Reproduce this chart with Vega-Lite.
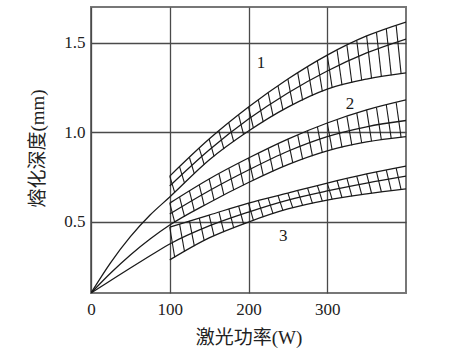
{
  "$schema": "https://vega.github.io/schema/vega-lite/v6.json",
  "width": 315,
  "height": 286,
  "autosize": {"type": "none"},
  "padding": {"left": 91, "top": 7, "right": 46, "bottom": 59},
  "background": "white",
  "config": {
    "view": {"stroke": "#777777", "strokeWidth": 2},
    "axis": {
      "labelFont": "Liberation Serif",
      "labelFontSize": 17,
      "labelColor": "#222222",
      "labelFlush": false,
      "titleFont": "Liberation Serif, Noto Sans CJK SC",
      "titleFontSize": 19,
      "titleFontWeight": "normal",
      "titleColor": "#222222",
      "ticks": false,
      "domain": false,
      "gridColor": "#4a4a4a",
      "gridWidth": 1.3,
      "gridOpacity": 1
    }
  },
  "datasets": {
    "curves": [
      {"c": "U1", "x": 100, "y": 0.754}, {"c": "U1", "x": 150, "y": 0.961}, {"c": "U1", "x": 200, "y": 1.140}, {"c": "U1", "x": 250, "y": 1.297}, {"c": "U1", "x": 300, "y": 1.431}, {"c": "U1", "x": 350, "y": 1.538}, {"c": "U1", "x": 400, "y": 1.616},
      {"c": "M1", "x": 100, "y": 0.699}, {"c": "M1", "x": 150, "y": 0.900}, {"c": "M1", "x": 200, "y": 1.073}, {"c": "M1", "x": 250, "y": 1.219}, {"c": "M1", "x": 300, "y": 1.342}, {"c": "M1", "x": 350, "y": 1.443}, {"c": "M1", "x": 400, "y": 1.521},
      {"c": "L1", "x": 0, "y": 0.1}, {"c": "L1", "x": 25, "y": 0.27}, {"c": "L1", "x": 50, "y": 0.415}, {"c": "L1", "x": 75, "y": 0.536}, {"c": "L1", "x": 100, "y": 0.637}, {"c": "L1", "x": 150, "y": 0.844}, {"c": "L1", "x": 200, "y": 1.006}, {"c": "L1", "x": 250, "y": 1.140}, {"c": "L1", "x": 300, "y": 1.241}, {"c": "L1", "x": 350, "y": 1.297}, {"c": "L1", "x": 400, "y": 1.331},
      {"c": "U2", "x": 100, "y": 0.603}, {"c": "U2", "x": 150, "y": 0.738}, {"c": "U2", "x": 200, "y": 0.855}, {"c": "U2", "x": 250, "y": 0.961}, {"c": "U2", "x": 300, "y": 1.051}, {"c": "U2", "x": 350, "y": 1.124}, {"c": "U2", "x": 400, "y": 1.180},
      {"c": "M2", "x": 100, "y": 0.542}, {"c": "M2", "x": 150, "y": 0.672}, {"c": "M2", "x": 200, "y": 0.788}, {"c": "M2", "x": 250, "y": 0.893}, {"c": "M2", "x": 300, "y": 0.975}, {"c": "M2", "x": 350, "y": 1.030}, {"c": "M2", "x": 400, "y": 1.065},
      {"c": "L2", "x": 0, "y": 0.1}, {"c": "L2", "x": 25, "y": 0.212}, {"c": "L2", "x": 50, "y": 0.313}, {"c": "L2", "x": 75, "y": 0.402}, {"c": "L2", "x": 100, "y": 0.480}, {"c": "L2", "x": 150, "y": 0.605}, {"c": "L2", "x": 200, "y": 0.718}, {"c": "L2", "x": 250, "y": 0.818}, {"c": "L2", "x": 300, "y": 0.895}, {"c": "L2", "x": 350, "y": 0.945}, {"c": "L2", "x": 400, "y": 0.975},
      {"c": "U3", "x": 100, "y": 0.469}, {"c": "U3", "x": 150, "y": 0.536}, {"c": "U3", "x": 200, "y": 0.603}, {"c": "U3", "x": 250, "y": 0.659}, {"c": "U3", "x": 300, "y": 0.715}, {"c": "U3", "x": 350, "y": 0.766}, {"c": "U3", "x": 400, "y": 0.810},
      {"c": "M3", "x": 0, "y": 0.1}, {"c": "M3", "x": 25, "y": 0.170}, {"c": "M3", "x": 50, "y": 0.240}, {"c": "M3", "x": 75, "y": 0.308}, {"c": "M3", "x": 100, "y": 0.374}, {"c": "M3", "x": 150, "y": 0.475}, {"c": "M3", "x": 200, "y": 0.553}, {"c": "M3", "x": 250, "y": 0.620}, {"c": "M3", "x": 300, "y": 0.671}, {"c": "M3", "x": 350, "y": 0.715}, {"c": "M3", "x": 400, "y": 0.754},
      {"c": "L3", "x": 100, "y": 0.285}, {"c": "L3", "x": 150, "y": 0.408}, {"c": "L3", "x": 200, "y": 0.497}, {"c": "L3", "x": 250, "y": 0.570}, {"c": "L3", "x": 300, "y": 0.620}, {"c": "L3", "x": 350, "y": 0.654}, {"c": "L3", "x": 400, "y": 0.682}
    ],
    "hatch": [
      {"b": 1, "xt": 100, "yt": 0.754, "xb": 106.25, "yb": 0.663},
      {"b": 1, "xt": 112.5, "yt": 0.806, "xb": 118.75, "yb": 0.715},
      {"b": 1, "xt": 125, "yt": 0.858, "xb": 131.25, "yb": 0.766},
      {"b": 1, "xt": 137.5, "yt": 0.909, "xb": 143.75, "yb": 0.818},
      {"b": 1, "xt": 150, "yt": 0.961, "xb": 156.25, "yb": 0.864},
      {"b": 1, "xt": 162.5, "yt": 1.006, "xb": 168.75, "yb": 0.905},
      {"b": 1, "xt": 175, "yt": 1.051, "xb": 181.25, "yb": 0.945},
      {"b": 1, "xt": 187.5, "yt": 1.095, "xb": 193.75, "yb": 0.986},
      {"b": 1, "xt": 200, "yt": 1.140, "xb": 206.25, "yb": 1.023},
      {"b": 1, "xt": 212.5, "yt": 1.179, "xb": 218.75, "yb": 1.056},
      {"b": 1, "xt": 225, "yt": 1.219, "xb": 231.25, "yb": 1.090},
      {"b": 1, "xt": 237.5, "yt": 1.258, "xb": 243.75, "yb": 1.123},
      {"b": 1, "xt": 250, "yt": 1.297, "xb": 256.25, "yb": 1.153},
      {"b": 1, "xt": 262.5, "yt": 1.331, "xb": 268.75, "yb": 1.178},
      {"b": 1, "xt": 275, "yt": 1.364, "xb": 281.25, "yb": 1.203},
      {"b": 1, "xt": 287.5, "yt": 1.398, "xb": 293.75, "yb": 1.228},
      {"b": 1, "xt": 300, "yt": 1.431, "xb": 306.25, "yb": 1.248},
      {"b": 1, "xt": 312.5, "yt": 1.458, "xb": 318.75, "yb": 1.262},
      {"b": 1, "xt": 325, "yt": 1.485, "xb": 331.25, "yb": 1.276},
      {"b": 1, "xt": 337.5, "yt": 1.511, "xb": 343.75, "yb": 1.290},
      {"b": 1, "xt": 350, "yt": 1.538, "xb": 356.25, "yb": 1.301},
      {"b": 1, "xt": 362.5, "yt": 1.558, "xb": 368.75, "yb": 1.310},
      {"b": 1, "xt": 375, "yt": 1.577, "xb": 381.25, "yb": 1.318},
      {"b": 1, "xt": 387.5, "yt": 1.597, "xb": 393.75, "yb": 1.327},
      {"b": 2, "xt": 100, "yt": 0.603, "xb": 106.25, "yb": 0.496},
      {"b": 2, "xt": 112.5, "yt": 0.637, "xb": 118.75, "yb": 0.527},
      {"b": 2, "xt": 125, "yt": 0.671, "xb": 131.25, "yb": 0.558},
      {"b": 2, "xt": 137.5, "yt": 0.704, "xb": 143.75, "yb": 0.589},
      {"b": 2, "xt": 150, "yt": 0.738, "xb": 156.25, "yb": 0.619},
      {"b": 2, "xt": 162.5, "yt": 0.767, "xb": 168.75, "yb": 0.647},
      {"b": 2, "xt": 175, "yt": 0.797, "xb": 181.25, "yb": 0.676},
      {"b": 2, "xt": 187.5, "yt": 0.826, "xb": 193.75, "yb": 0.704},
      {"b": 2, "xt": 200, "yt": 0.855, "xb": 206.25, "yb": 0.731},
      {"b": 2, "xt": 212.5, "yt": 0.882, "xb": 218.75, "yb": 0.756},
      {"b": 2, "xt": 225, "yt": 0.908, "xb": 231.25, "yb": 0.781},
      {"b": 2, "xt": 237.5, "yt": 0.935, "xb": 243.75, "yb": 0.806},
      {"b": 2, "xt": 250, "yt": 0.961, "xb": 256.25, "yb": 0.828},
      {"b": 2, "xt": 262.5, "yt": 0.984, "xb": 268.75, "yb": 0.847},
      {"b": 2, "xt": 275, "yt": 1.006, "xb": 281.25, "yb": 0.866},
      {"b": 2, "xt": 287.5, "yt": 1.029, "xb": 293.75, "yb": 0.885},
      {"b": 2, "xt": 300, "yt": 1.051, "xb": 306.25, "yb": 0.901},
      {"b": 2, "xt": 312.5, "yt": 1.069, "xb": 318.75, "yb": 0.914},
      {"b": 2, "xt": 325, "yt": 1.088, "xb": 331.25, "yb": 0.926},
      {"b": 2, "xt": 337.5, "yt": 1.106, "xb": 343.75, "yb": 0.939},
      {"b": 2, "xt": 350, "yt": 1.124, "xb": 356.25, "yb": 0.949},
      {"b": 2, "xt": 362.5, "yt": 1.138, "xb": 368.75, "yb": 0.956},
      {"b": 2, "xt": 375, "yt": 1.152, "xb": 381.25, "yb": 0.964},
      {"b": 2, "xt": 387.5, "yt": 1.166, "xb": 393.75, "yb": 0.971},
      {"b": 3, "xt": 100, "yt": 0.469, "xb": 106.25, "yb": 0.300},
      {"b": 3, "xt": 112.5, "yt": 0.486, "xb": 118.75, "yb": 0.331},
      {"b": 3, "xt": 125, "yt": 0.503, "xb": 131.25, "yb": 0.362},
      {"b": 3, "xt": 137.5, "yt": 0.519, "xb": 143.75, "yb": 0.393},
      {"b": 3, "xt": 150, "yt": 0.536, "xb": 156.25, "yb": 0.419},
      {"b": 3, "xt": 162.5, "yt": 0.553, "xb": 168.75, "yb": 0.441},
      {"b": 3, "xt": 175, "yt": 0.570, "xb": 181.25, "yb": 0.463},
      {"b": 3, "xt": 187.5, "yt": 0.586, "xb": 193.75, "yb": 0.486},
      {"b": 3, "xt": 200, "yt": 0.603, "xb": 206.25, "yb": 0.506},
      {"b": 3, "xt": 212.5, "yt": 0.617, "xb": 218.75, "yb": 0.524},
      {"b": 3, "xt": 225, "yt": 0.631, "xb": 231.25, "yb": 0.543},
      {"b": 3, "xt": 237.5, "yt": 0.645, "xb": 243.75, "yb": 0.561},
      {"b": 3, "xt": 250, "yt": 0.659, "xb": 256.25, "yb": 0.576},
      {"b": 3, "xt": 262.5, "yt": 0.673, "xb": 268.75, "yb": 0.589},
      {"b": 3, "xt": 275, "yt": 0.687, "xb": 281.25, "yb": 0.601},
      {"b": 3, "xt": 287.5, "yt": 0.701, "xb": 293.75, "yb": 0.614},
      {"b": 3, "xt": 300, "yt": 0.715, "xb": 306.25, "yb": 0.624},
      {"b": 3, "xt": 312.5, "yt": 0.728, "xb": 318.75, "yb": 0.633},
      {"b": 3, "xt": 325, "yt": 0.741, "xb": 331.25, "yb": 0.641},
      {"b": 3, "xt": 337.5, "yt": 0.753, "xb": 343.75, "yb": 0.650},
      {"b": 3, "xt": 350, "yt": 0.766, "xb": 356.25, "yb": 0.658},
      {"b": 3, "xt": 362.5, "yt": 0.777, "xb": 368.75, "yb": 0.665},
      {"b": 3, "xt": 375, "yt": 0.788, "xb": 381.25, "yb": 0.672},
      {"b": 3, "xt": 387.5, "yt": 0.799, "xb": 393.75, "yb": 0.679}
    ],
    "labels": [
      {"t": "1", "x": 216, "y": 1.387},
      {"t": "2", "x": 329, "y": 1.157},
      {"t": "3", "x": 244, "y": 0.419}
    ]
  },
  "layer": [
    {
      "data": {"name": "curves"},
      "mark": {"type": "line", "interpolate": "monotone", "color": "#1a1a1a", "strokeWidth": 1.3, "clip": true},
      "encoding": {
        "x": {
          "field": "x", "type": "quantitative", "title": "激光功率(W)",
          "scale": {"domain": [0, 400], "nice": false, "zero": false},
          "axis": {"values": [0, 100, 200, 300], "labelPadding": 8, "labelFlush": false, "titleX": 157.5, "titleY": 44, "titleBaseline": "middle", "titleAnchor": "middle", "grid": true}
        },
        "y": {
          "field": "y", "type": "quantitative", "title": "熔化深度(mm)",
          "scale": {"domain": [0.1, 1.7], "nice": false, "zero": false},
          "axis": {"values": [0.5, 1.0, 1.5], "format": ".1f", "labelPadding": 6, "labelFlush": false, "titleX": -54, "titleY": 141, "titleAngle": -90, "titleBaseline": "middle", "titleAnchor": "middle", "grid": true}
        },
        "detail": {"field": "c"},
        "order": {"field": "x", "type": "quantitative"}
      }
    },
    {
      "data": {"name": "hatch"},
      "mark": {"type": "rule", "color": "#1a1a1a", "strokeWidth": 1.1, "clip": true},
      "encoding": {
        "x": {"field": "xt", "type": "quantitative", "title": "激光功率(W)"},
        "y": {"field": "yt", "type": "quantitative", "title": "熔化深度(mm)"},
        "x2": {"field": "xb"},
        "y2": {"field": "yb"}
      }
    },
    {
      "data": {"name": "labels"},
      "mark": {"type": "text", "font": "Liberation Serif", "fontSize": 17, "color": "#1a1a1a", "align": "center", "baseline": "middle"},
      "encoding": {
        "x": {"field": "x", "type": "quantitative", "title": "激光功率(W)"},
        "y": {"field": "y", "type": "quantitative", "title": "熔化深度(mm)"},
        "text": {"field": "t"}
      }
    }
  ]
}
